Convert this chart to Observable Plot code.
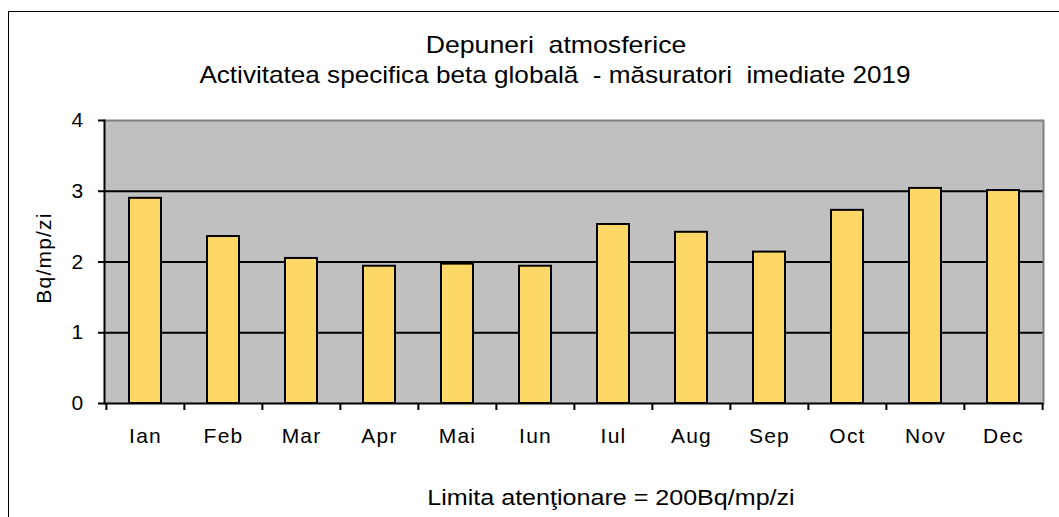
<!DOCTYPE html>
<html>
<head>
<meta charset="utf-8">
<script src="https://cdn.jsdelivr.net/npm/d3@7"></script>
<script src="https://cdn.jsdelivr.net/npm/@observablehq/plot@0.6"></script>
<style>
  html, body { margin: 0; padding: 0; background: #fff; }
  #wrap { position: relative; width: 1059px; height: 517px; overflow: hidden; font-family: "Liberation Sans", Arial, sans-serif; }
  #frame { position: absolute; left: 8px; top: 11px; width: 1100px; height: 600px; border: 1.5px solid #000; box-sizing: border-box; }
  .t { position: absolute; left: 0; text-align: center; color: #000; white-space: pre; line-height: 1; }
  #chart { position: absolute; left: 0; top: 0; }
  #chart svg text { letter-spacing: 1.2px; }
</style>
</head>
<body>
<div id="wrap">
  <div id="frame"></div>
  <div id="chart"></div>
  <div class="t" style="top:33px; width:1112px; font-size:24px; transform: scaleX(1.11);">Depuneri  atmosferice</div>
  <div class="t" style="top:63px; width:1110px; font-size:24px; transform: scaleX(1.088);">Activitatea specifica beta globală  - măsuratori  imediate 2019</div>
  <div class="t" style="top:487px; width:1222px; font-size:22px; transform: scaleX(1.14);">Limita atenţionare = 200Bq/mp/zi</div>
</div>
<script>
const months = ["Ian", "Feb", "Mar", "Apr", "Mai", "Iun", "Iul", "Aug", "Sep", "Oct", "Nov", "Dec"];
const values = [2.90, 2.36, 2.05, 1.94, 1.97, 1.94, 2.53, 2.42, 2.14, 2.73, 3.04, 3.01];
const yTicks = [0, 1, 2, 3, 4];
const gridValues = [1, 2, 3];
const yLabel = "Bq/mp/zi";

const data = months.map((m, i) => ({month: m, value: values[i]}));

const W = 1059, H = 517, ML = 104, MR = 16, MT = 120, MB = 114;
const step = (W - ML - MR) / months.length;

const chart = Plot.plot({
  width: W,
  height: H,
  marginLeft: ML,
  marginRight: MR,
  marginTop: MT,
  marginBottom: MB,
  style: {fontFamily: "'Liberation Sans', Arial, sans-serif", fontSize: "21px", background: "transparent", color: "#000"},
  x: {domain: months, paddingInner: 0.59, paddingOuter: 0.295, label: null},
  y: {domain: [0, 4], label: null},
  marks: [
    Plot.frame({fill: "#C0C0C0", stroke: null}),
    Plot.ruleY(gridValues, {stroke: "#000", strokeWidth: 2}),
    Plot.ruleY([4], {stroke: "#808080", strokeWidth: 2}),
    Plot.frame({anchor: "right", stroke: "#808080", strokeWidth: 2}),
    Plot.barY(data, {x: "month", y: "value", fill: "#FDD866", stroke: "#000", strokeWidth: 2}),
    Plot.ruleY([0], {stroke: "#000", strokeWidth: 2}),
    Plot.frame({anchor: "left", stroke: "#000", strokeWidth: 2}),
    Plot.axisY({ticks: yTicks, tickSize: 6, tickPadding: 14, tickFormat: d => String(d), label: null, strokeWidth: 2, fontSize: 21}),
    Plot.text([yLabel], {frameAnchor: "left", textAnchor: "middle", rotate: -90, dx: -60, dy: -4, fontSize: 21}),
    Plot.axisX({tickSize: 0, tickPadding: 25, label: null, fontSize: 21}),
    Plot.axisX({tickSize: 7, tickFormat: () => "", label: null, dx: -step / 2, strokeWidth: 2}),
    Plot.axisX({ticks: [months[months.length - 1]], tickSize: 7, tickFormat: () => "", label: null, dx: step / 2, strokeWidth: 2})
  ]
});
document.getElementById("chart").appendChild(chart);
</script>
</body>
</html>
